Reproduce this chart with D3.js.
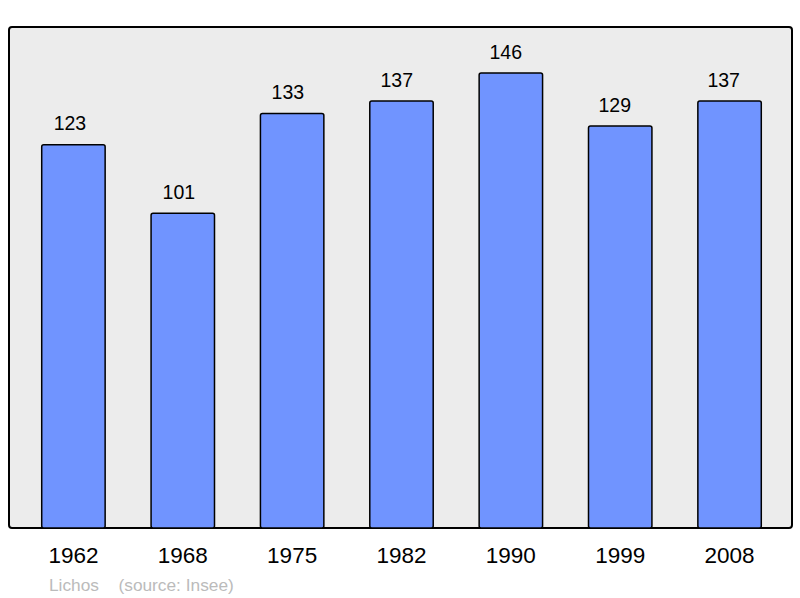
<!DOCTYPE html>
<html><head><meta charset="utf-8">
<script src="https://cdn.jsdelivr.net/npm/d3@7"></script>
<style>body{margin:0;background:#fff}svg{display:block;font-family:"Liberation Sans",Arial,sans-serif}</style>
</head><body><svg id="c" width="800" height="598"></svg>
<script>
const years = ["1962","1968","1975","1982","1990","1999","2008"];
const population = [123,101,133,137,146,129,137];

const svg = d3.select("#c");
svg.append("rect").attr("x",9).attr("y",27).attr("width",783).attr("height",501)
  .attr("rx",3).attr("fill","#ececec").attr("stroke","#000").attr("stroke-width",2);

const x = d3.scaleBand().domain(years).range([10,793]).paddingInner(0.42).paddingOuter(0.29);
const y = d3.scaleLinear().domain([0,146]).range([528,73]);

svg.selectAll("rect.bar").data(population).join("rect").attr("class","bar")
  .attr("x",(d,i)=>x(years[i])).attr("y",d=>y(d))
  .attr("width",x.bandwidth()).attr("height",d=>y(0)-y(d))
  .attr("rx",2).attr("fill","#7094ff").attr("stroke","#000").attr("stroke-width",1.5);

svg.selectAll("text.val").data(population).join("text").attr("class","val")
  .attr("x",(d,i)=>x(years[i])+x.bandwidth()/2 - 3.5 - 0.4*i).attr("y",d=>y(d)-14.3)
  .attr("text-anchor","middle").attr("font-size",19.5).attr("fill","#000").text(d=>d);

const axis = d3.axisBottom(x).tickSize(0).tickPadding(0);
const g = svg.append("g").attr("transform","translate(0,528)").call(axis);
g.select(".domain").remove();
g.selectAll("text").attr("font-size",22.5).attr("font-family","'Liberation Sans',Arial,sans-serif")
  .attr("fill","#000").attr("dy",null).attr("y",35);

svg.append("text").attr("x",49).attr("y",590.5).attr("font-size",17.3).attr("fill","#bbbbbb").text("Lichos");
svg.append("text").attr("x",118.5).attr("y",590.5).attr("font-size",17.3).attr("fill","#bbbbbb").text("(source: Insee)");
</script></body></html>
